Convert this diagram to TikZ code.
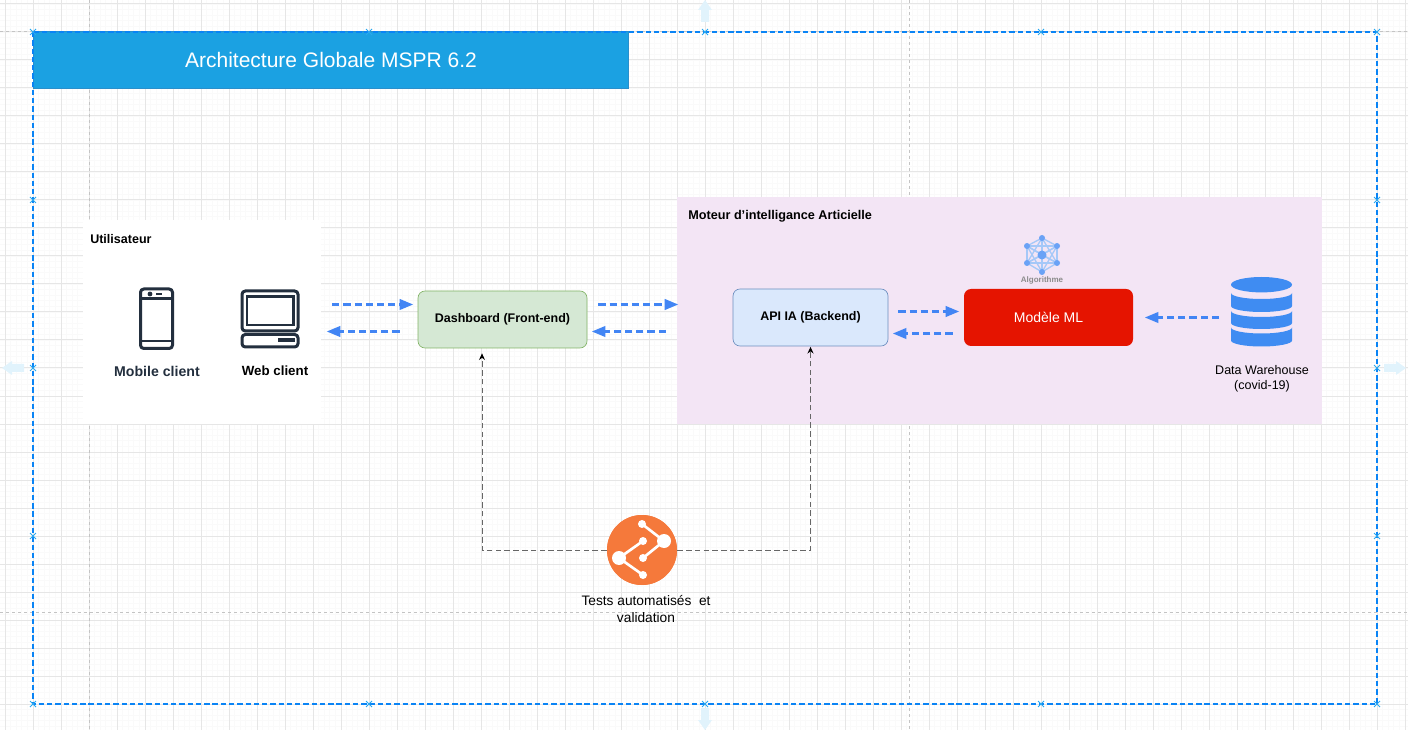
\documentclass[tikz,border=0pt]{standalone}
\usepackage{fontspec}
\setmainfont{Liberation Sans}
\usetikzlibrary{arrows.meta}

\def\px{0.75pt}
\definecolor{gridmajor}{HTML}{E6E6E6}
\definecolor{gridminor}{HTML}{FAFAFA}
\definecolor{pageline}{HTML}{C4C4C4}
\definecolor{selblue}{HTML}{0A84F5}
\definecolor{handleblue}{HTML}{29A8F0}
\definecolor{handlefaint}{HTML}{E1F3FC}
\definecolor{flowblue}{HTML}{4285F4}
\definecolor{dbblue}{HTML}{3F8CF2}
\definecolor{iconink}{HTML}{232F3E}
\definecolor{netblue}{HTML}{A5C8F8}
\definecolor{netdot}{HTML}{6AA2F6}
\definecolor{purplezone}{HTML}{F3E5F5}
\definecolor{testorange}{HTML}{F5793B}
\definecolor{titleblue}{HTML}{1BA1E2}
\definecolor{titleedge}{HTML}{2A8FCB}
\definecolor{frontgreen}{HTML}{D5E8D4}
\definecolor{frontedge}{HTML}{82B366}
\definecolor{apiblue}{HTML}{DAE8FC}
\definecolor{apiedge}{HTML}{6C8EBF}
\definecolor{modelred}{HTML}{E51400}

\tikzset{
  box/.style={rounded corners=7*\px, line width=0.5pt, inner sep=0pt, align=center,
    minimum height=57*\px},
  boxtext/.style={font=\bfseries\fontsize{9.35}{11}\selectfont},
  caption/.style={align=center, inner sep=0pt},
  clientname/.style={font=\bfseries\fontsize{9.6}{11}\selectfont, text=iconink, inner sep=0pt},
  zonetitle/.style={font=\bfseries\fontsize{9.4}{11}\selectfont, anchor=west, inner sep=0pt},
  flow/.style={draw=flowblue, line width=2.6pt, dash pattern=on 5.4pt off 3pt,
    -{Triangle[length=10.5pt,width=7.5pt,fill=flowblue]}},
  testlink/.style={draw=black!60, line width=0.75pt, dash pattern=on 4.2pt off 2.4pt,
    -{Stealth[length=5pt,width=4.5pt,black]}},
  iconline/.style={draw=iconink, line width=2.25pt, rounded corners=2.5pt},
  selcross/.style={handleblue, line width=0.75pt}
}

\begin{document}
\begin{tikzpicture}[x=0.75pt, y=-0.75pt]
\useasboundingbox (0,0) rectangle (1408,730);
\clip (0,0) rectangle (1408,730);

\foreach \k in {0,...,251} \draw[gridminor, line width=0.5pt] ({5+5.6*\k},0) -- ({5+5.6*\k},730);
\foreach \k in {0,...,131} \draw[gridminor, line width=0.5pt] (0,{4+5.6*\k}) -- (1408,{4+5.6*\k});
\foreach \k in {0,...,50} \draw[gridmajor, line width=0.75pt] ({5+28*\k},0) -- ({5+28*\k},730);
\foreach \k in {0,...,26} \draw[gridmajor, line width=0.75pt] (0,{4+28*\k}) -- (1408,{4+28*\k});
\foreach \k in {89,909} \draw[pageline, line width=0.75pt, dash pattern=on 2.5pt off 2pt] (\k,0) -- (\k,730);
\foreach \k in {32,612} \draw[pageline, line width=0.75pt, dash pattern=on 2.5pt off 2pt] (0,\k) -- (1408,\k);

\foreach \cx/\cy/\turn in {705/0/0,2/368/90,1406/368/-90,705/730/180}
  \fill[handlefaint, shift={(\cx,\cy)}, rotate=\turn] (0,0) -- (7,10) -- (4,10) -- (4,22) -- (-4,22) -- (-4,10) -- (-7,10) -- cycle;

\node[draw=titleedge, fill=titleblue, text=white, minimum width=595*\px, minimum height=56.5*\px, inner sep=0pt, line width=0.5pt, font=\fontsize{15.75}{18}\selectfont] (titre) at (331,60) {Architecture Globale MSPR 6.2};

\draw[selblue, line width=0.9pt, dash pattern=on 4pt off 2.2pt] (33,32) rectangle (1377,704);
\foreach \cx in {33,369,705,1041,1377} \foreach \cy in {32,704}
  \draw[selcross] (\cx-3,\cy-3) -- (\cx+3,\cy+3) (\cx-3,\cy+3) -- (\cx+3,\cy-3);
\foreach \cx in {33,1377} \foreach \cy in {200,368,536}
  \draw[selcross] (\cx-3,\cy-3) -- (\cx+3,\cy+3) (\cx-3,\cy+3) -- (\cx+3,\cy-3);

\node[fill=white, minimum width=238*\px, minimum height=204*\px, inner sep=0pt] (userbox) at (202,322) {};
\node[fill=purplezone, minimum width=645*\px, minimum height=226.5*\px, inner sep=0pt] (moteur) at (999.5,310.25) {};
\node[zonetitle] (usertitle) at (90,239) {Utilisateur};
\node[zonetitle, font=\bfseries\fontsize{9.5}{11}\selectfont] (moteurtitle) at (688,216) {Moteur d'intelligance Articielle};

\draw[iconline] (140.5,289) rectangle (172.5,348.5);
\draw[iconink, line width=1.8pt] (141,298.5) -- (172,298.5) (141,341) -- (172,341) (156,294) -- (162,294);
\fill[iconink] (150,294) circle (2.4);
\draw[iconline] (242,291) rectangle (298,331);
\draw[iconink, line width=1.8pt] (247,296.5) rectangle (293.5,325);
\draw[iconline] (242,334.5) rectangle (298,347);
\fill[iconink] (278,338) rectangle (295,342.5);
\node[clientname, font=\bfseries\fontsize{10.6}{11}\selectfont] (mobileclient) at (157,371) {Mobile client};
\node[clientname, text=black, font=\bfseries\fontsize{10}{11}\selectfont] (webclient) at (275,371) {Web client};

\node[box, draw=frontedge, fill=frontgreen, minimum width=169*\px, boxtext] (dashboard) at (502.5,319.5) {Dashboard (Front-end)};
\node[box, draw=apiedge, fill=apiblue, minimum width=155*\px, boxtext] (apiia) at (810.5,317.5) {API IA (Backend)};
\node[box, fill=modelred, text=white, minimum width=169*\px, font=\fontsize{10.5}{11}\selectfont] (modele) at (1048.5,317.5) {Modèle ML};

\foreach \n/\cx/\cy in {a/1042/238,b/1057/246,c/1057/263,d/1042/272,e/1027/263,f/1027/246,o/1042/255}
  \coordinate (net\n) at (\cx,\cy);
\foreach \p/\q in {a/b,b/c,c/d,d/e,e/f,f/a,a/o,b/o,c/o,d/o,e/o,f/o,a/c,a/e,b/d,b/e,c/f,d/f,a/d,b/f,c/e}
  \draw[netblue, line width=1pt] (net\p) -- (net\q);
\foreach \n in {a,b,c,d,e,f} \fill[netdot] (net\n) circle (3);
\fill[netdot] (neto) circle (4.5);
\node[inner sep=0pt, text=black!45, font=\bfseries\fontsize{6}{7}\selectfont] (algorithme) at (1042,280.5) {Algorithme};

\fill[dbblue] (1261.5,284.7) ellipse [x radius=30.5*\px, y radius=7.7*\px];
\foreach \ta/\tb in {293/306,311/323,327.5/340.5}
  \fill[dbblue] (1231,\ta) -- (1231,\tb) arc[start angle=180, end angle=360, x radius=30.5*\px, y radius=6*\px]
    -- (1292,\ta) arc[start angle=0, end angle=-180, x radius=30.5*\px, y radius=6*\px] -- cycle;
\node[caption, font=\fontsize{9.4}{11.25}\selectfont] (warehouse) at (1262,379) {Data Warehouse\\(covid-19)};
\coordinate (warehouseout) at (1219,317.5);

\coordinate (rowup) at (0,304.5);
\coordinate (rowdown) at (0,331.5);
\coordinate (rowmodelup) at (0,311.5);
\coordinate (rowmodeldown) at (0,333.5);

\draw[flow, shorten <=11*\px, shorten >=4*\px] (userbox.east |- rowup) -- (dashboard.west |- rowup);
\draw[flow, shorten <=18*\px, shorten >=5*\px] (dashboard.west |- rowdown) -- (userbox.east |- rowdown);
\draw[flow, shorten <=11*\px, shorten >=-2*\px] (dashboard.east |- rowup) -- (moteur.west |- rowup);
\draw[flow, shorten <=11*\px, shorten >=4*\px] (moteur.west |- rowdown) -- (dashboard.east |- rowdown);
\draw[flow, shorten <=10*\px, shorten >=4*\px] (apiia.east |- rowmodelup) -- (modele.west |- rowmodelup);
\draw[flow, shorten <=11*\px, shorten >=4*\px] (modele.west |- rowmodeldown) -- (apiia.east |- rowmodeldown);
\draw[flow, shorten >=11*\px] (warehouseout) -- (modele.east |- warehouseout);

\node[circle, fill=testorange, minimum size=70*\px, inner sep=0pt] (testicon) at (642,550) {};
\draw[testlink, shorten >=5*\px] (testicon.west) -| ([xshift=-20.5*\px]dashboard.south);
\draw[testlink, shorten >=0.5*\px] (testicon.east) -| (apiia.south);
\fill[testorange] (testicon) circle (35);
\draw[white, line width=2pt] (642,524) -- (664,541) -- (643,558) (643,541) -- (619,558) -- (643,575);
\foreach \cx/\cy/\r in {642/524/4,664/541/7,643/541/4,643/558/4,619/558/7,643/575/4}
  \fill[white] (\cx,\cy) circle (\r);
\node[caption, font=\fontsize{10.3}{12.75}\selectfont] (testcaption) at (646,609.5) {Tests automatisés\ \ et\\validation};
\end{tikzpicture}
\end{document}
